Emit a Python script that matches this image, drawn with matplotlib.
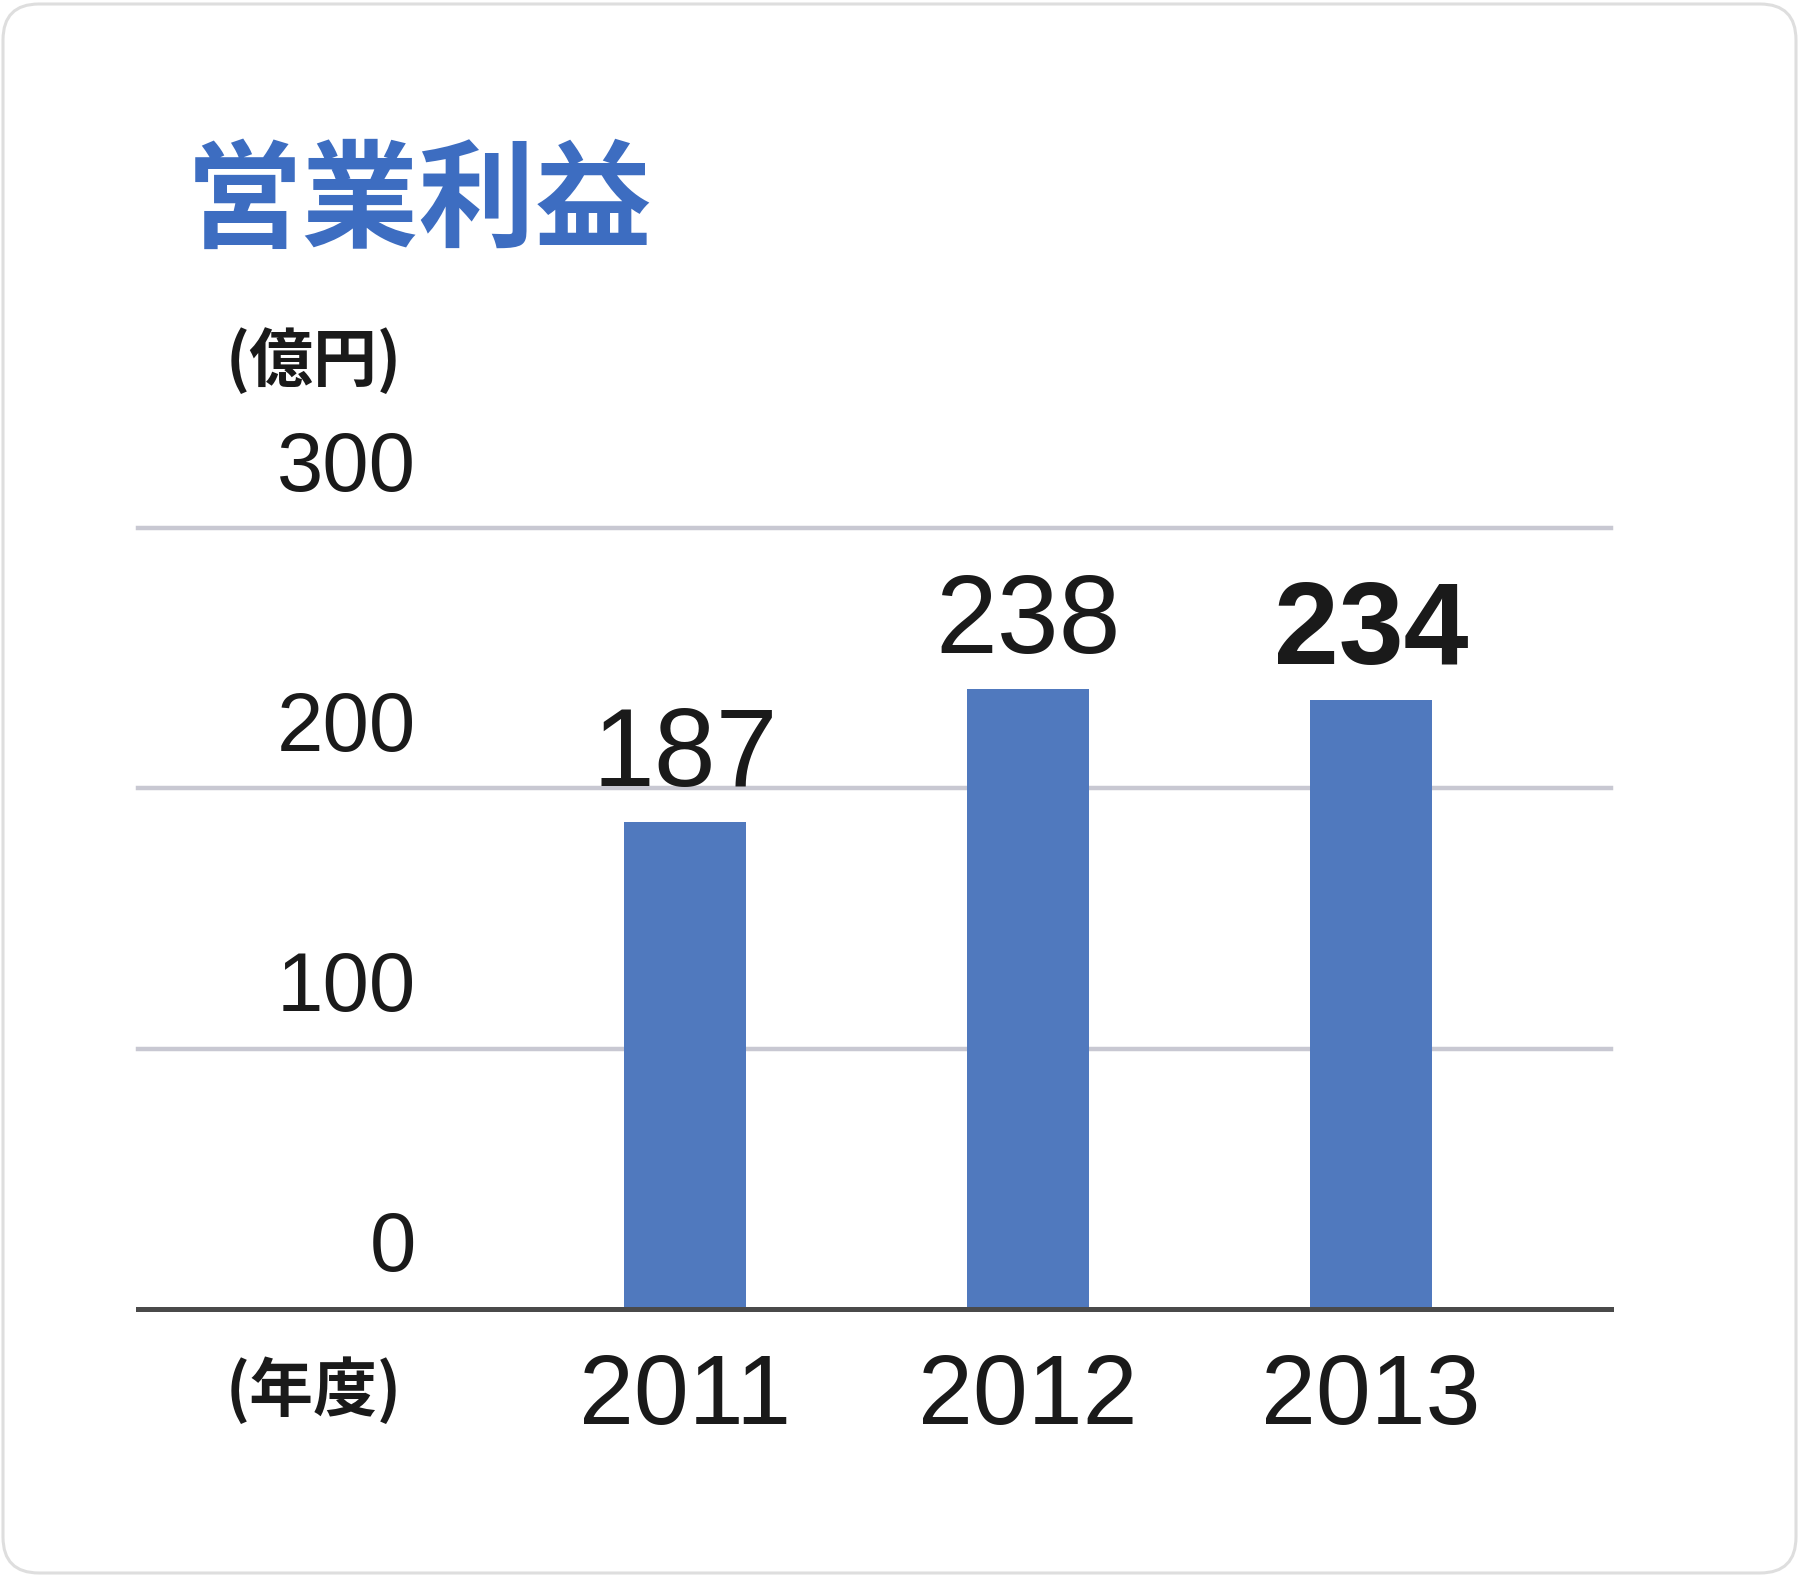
import matplotlib
matplotlib.use("Agg")
import matplotlib.pyplot as plt
from matplotlib.patches import FancyBboxPatch
import matplotlib.transforms as mtransforms

plt.rcParams['font.family'] = ['Liberation Sans Narrow', 'Liberation Sans', 'Noto Sans CJK JP', 'DejaVu Sans']

# ---- data ----
title = "営業利益"
unit_label = "(億円)"
year_label = "(年度)"
years = ["2011", "2012", "2013"]
values = [187, 238, 234]
value_bold = [False, False, True]
yticks = [0, 100, 200, 300]

bar_color = "#5079be"
title_color = "#3d6dc1"
text_color = "#1a1a1a"

W, H = 1800, 1576
fig = plt.figure(figsize=(W / 100, H / 100), dpi=100)
fig.patch.set_facecolor("white")

# rounded card border
card = FancyBboxPatch((3 / W, 3 / H), (W - 7) / W, (H - 7) / H,
                      boxstyle="round,pad=0,rounding_size=0.02",
                      transform=fig.transFigure, facecolor="none",
                      edgecolor="#dedede", linewidth=2.2, mutation_aspect=W / H,
                      zorder=-1)
fig.patches.append(card)

left_px, right_px = 138, 1611
bottom_px, top_px = 1309, 528
ax = fig.add_axes([left_px / W, 1 - bottom_px / H,
                   (right_px - left_px) / W, (bottom_px - top_px) / H])
ax.set_facecolor("none")

x = list(range(len(years)))
ax.bar(x, values, width=0.355, color=bar_color, zorder=2)

ax.set_ylim(0, 300)
ax.set_xlim(-1.595, 2.70)

# gridlines
for t in yticks[1:]:
    ax.axhline(t, color="#c8c8d2", linewidth=3.2, zorder=1, clip_on=False)
ax.axhline(0, color="#4a4a4a", linewidth=3.6, zorder=3, clip_on=False)

for s in ax.spines.values():
    s.set_visible(False)
ax.set_xticks([])
ax.set_yticks([])

# y tick labels (above each gridline, right aligned)
ylab_x = (416 - left_px) / (right_px - left_px)
trans = mtransforms.blended_transform_factory(ax.transAxes, ax.transData)
for t in yticks:
    ax.annotate(str(t), xy=(ylab_x, t), xycoords=trans,
                xytext=(0, 27), textcoords="offset points",
                ha="right", va="baseline", fontsize=60, color=text_color,
                annotation_clip=False)

# value labels
for xi, v, b in zip(x, values, value_bold):
    ax.annotate(str(v), xy=(xi, v), xytext=(0, 26), textcoords="offset points",
                ha="center", va="baseline", fontsize=84 if b else 80,
                fontweight="bold" if b else "normal", color=text_color,
                annotation_clip=False)

# x labels
for xi, yr in zip(x, years):
    ax.annotate(yr, xy=(xi, 0), xytext=(0, -83), textcoords="offset points",
                ha="center", va="baseline", fontsize=71, color=text_color,
                annotation_clip=False)

cjk = ['Noto Sans CJK JP', 'DejaVu Sans']
fig.text(186 / W, 1 - 204 / H, title, family=cjk, fontsize=84,
         fontweight="bold", color=title_color, ha="left", va="center")
fig.text(226 / W, 1 - 362 / H, unit_label, family=cjk, fontsize=46,
         fontweight="bold", color=text_color, ha="left", va="center")
fig.text(226 / W, 1 - 1391 / H, year_label, family=cjk, fontsize=46,
         fontweight="bold", color=text_color, ha="left", va="center")

fig.savefig("out.png", dpi=100, facecolor="white")
